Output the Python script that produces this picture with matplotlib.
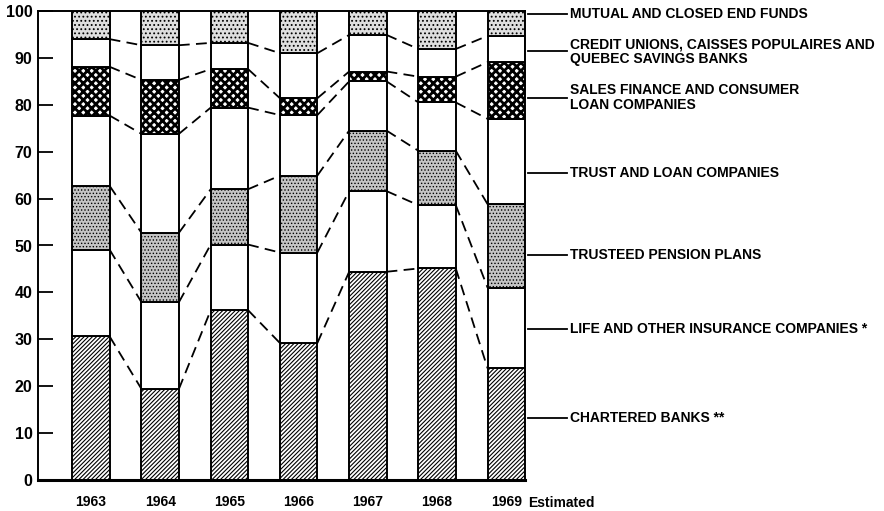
import matplotlib
matplotlib.use("Agg")
import matplotlib.pyplot as plt
import numpy as np

plt.rcParams['font.family'] = ['Liberation Sans', 'DejaVu Sans']

years = ["1963", "1964", "1965", "1966", "1967", "1968", "1969"]
# cumulative boundaries (top of each segment), percent
chartered_banks = [30.6, 19.4, 36.2, 29.2, 44.4, 45.1, 23.8]
life_insurance = [49.1, 37.9, 50.2, 48.5, 61.6, 58.6, 41.0]
trusteed_pension = [62.7, 52.7, 62.0, 64.9, 74.5, 70.2, 58.8]
trust_loan = [77.7, 73.8, 79.4, 77.8, 85.0, 80.5, 77.0]
sales_finance = [88.1, 85.3, 87.6, 81.4, 87.1, 86.0, 89.1]
credit_unions = [94.0, 92.7, 93.2, 91.0, 94.9, 91.9, 94.7]
mutual_funds = [100, 100, 100, 100, 100, 100, 100]

labels = ["CHARTERED BANKS **",
          "LIFE AND OTHER INSURANCE COMPANIES *",
          "TRUSTEED PENSION PLANS",
          "TRUST AND LOAN COMPANIES",
          "SALES FINANCE AND CONSUMER\nLOAN COMPANIES",
          "CREDIT UNIONS, CAISSES POPULAIRES AND\nQUEBEC SAVINGS BANKS",
          "MUTUAL AND CLOSED END FUNDS"]
label_pos = [13.3, 32.1, 48.0, 65.5, 81.5, 91.4, 99.3]

tops = [chartered_banks, life_insurance, trusteed_pension, trust_loan,
        sales_finance, credit_unions, mutual_funds]
styles = [
    dict(facecolor="white", hatch="////////", hlw=0.8),
    dict(facecolor="white", hatch=None, hlw=0.8),
    dict(facecolor="#c4c4c4", hatch=".....", hlw=0.6),
    dict(facecolor="white", hatch=None, hlw=0.8),
    dict(facecolor="white", hatch="xxxx", hlw=2.0),
    dict(facecolor="white", hatch=None, hlw=0.8),
    dict(facecolor="#dedede", hatch="....", hlw=0.8),
]

fig = plt.figure(figsize=(8.84, 5.11), dpi=100)
ax = fig.add_axes([38/884, 31/511, 487/884, 469/511])

x = np.arange(len(years))
w = 0.54
bottoms = np.zeros(len(years))
for top, st in zip(tops, styles):
    top = np.array(top, dtype=float)
    with plt.rc_context({'hatch.linewidth': st["hlw"]}):
        ax.bar(x, top - bottoms, bottom=bottoms, width=w, edgecolor="black",
               linewidth=1.4, facecolor=st["facecolor"], hatch=st["hatch"],
               zorder=2)
    bottoms = top

# dashed connectors
for top in tops[:-1]:
    for i in range(len(years) - 1):
        ax.plot([x[i] + w/2, x[i+1] - w/2], [top[i], top[i+1]],
                color="black", linestyle=(0, (6, 3.5)), linewidth=1.3, zorder=1)

ax.set_xlim(-0.765, 6.27)
ax.set_ylim(0, 100)
ax.set_yticks(np.arange(0, 101, 10))
ax.set_yticklabels([str(v) for v in range(0, 101, 10)], fontsize=11.5,
                   fontweight="bold")
ax.tick_params(axis="y", direction="in", length=11, width=1.3, pad=4)
ax.set_xticks(x)
ax.set_xticklabels(years, fontsize=10, fontweight="bold")
ax.tick_params(axis="x", length=0, pad=11)
for s in ["left", "top", "right"]:
    ax.spines[s].set_linewidth(1.4)
ax.spines["bottom"].set_linewidth(2.2)

ax.text(6 + 0.32, -4.9, "Estimated", fontsize=10, fontweight="bold",
        ha="left", va="center", transform=ax.transData, clip_on=False)

tr = ax.get_yaxis_transform()
for lab, yp in zip(labels, label_pos):
    ax.plot([1.006, 1.086], [yp, yp], color="black", linewidth=1.3,
            transform=tr, clip_on=False)
    ax.text(1.093, yp, lab, transform=tr, fontsize=10, fontweight="bold",
            ha="left", va="center", linespacing=1.05)

fig.savefig("out.png", dpi=100)
